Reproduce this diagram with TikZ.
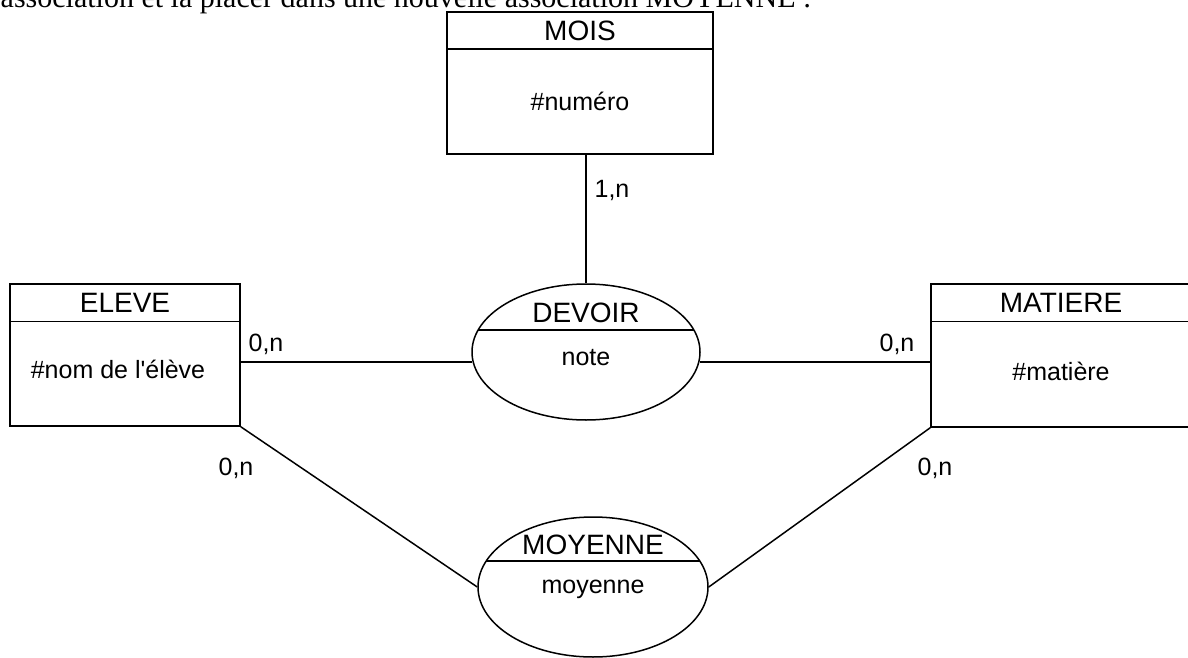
\documentclass[tikz,border=0pt]{standalone}
\usepackage{fontspec}
\setmainfont{Liberation Sans}
\newfontfamily\introfont{Liberation Serif}
\usetikzlibrary{shapes.geometric}

\begin{document}
\begin{tikzpicture}[x=1pt,y=-1pt,line width=1.5pt,
	entity/.style={draw,rectangle,inner sep=0pt},
	assoc/.style={draw,ellipse,inner sep=0pt},
	title/.style={font=\fontsize{28}{28}\selectfont,inner sep=0pt},
	attr/.style={font=\fontsize{25}{25}\selectfont,inner sep=0pt},
	card/.style={font=\fontsize{25}{25}\selectfont,inner sep=0pt}]
	\useasboundingbox (0,0) rectangle (1188,658);
	\clip (0,0) rectangle (1188,658);
	\node (Intro) at (0,8) [anchor=base west,inner sep=0pt,font=\introfont\fontsize{30}{30}\selectfont] {association et la placer dans une nouvelle association MOYENNE :};
	% entites
	\node (MOIS) at (580,83) [entity,minimum width=266pt,minimum height=142pt] {};
	\node (ELEVE) at (125,355) [entity,minimum width=230pt,minimum height=142pt] {};
	\node (MATIERE) at (1061,355.5) [entity,minimum width=260pt,minimum height=143pt] {};
	\draw ([yshift=-38pt]MOIS.north west) -- ([yshift=-38pt]MOIS.north east);
	\draw ([yshift=-38pt]ELEVE.north west) -- ([yshift=-38pt]ELEVE.north east);
	\draw ([yshift=-38pt]MATIERE.north west) -- ([yshift=-38pt]MATIERE.north east);
	\node (MOIS-t) at ([yshift=-20pt]MOIS.north) [title] {MOIS};
	\node (ELEVE-t) at ([yshift=-20pt]ELEVE.north) [title] {ELEVE};
	\node (MATIERE-t) at ([yshift=-20pt]MATIERE.north) [title] {MATIERE};
	\node (MOIS-a) at (580,101) [attr] {\#numéro};
	\node (ELEVE-a) at (118,369) [attr] {\#nom de l\textquotesingle élève};
	\node (MATIERE-a) at (1061,371) [attr] {\#matière};
	% associations
	\node (DEVOIR) at (586,352) [assoc,minimum width=228pt,minimum height=136pt] {};
	\node (MOYENNE) at (593,587) [assoc,minimum width=230pt,minimum height=140pt] {};
	\draw ([shift={(-107.9,-22)}]DEVOIR.center) -- ([shift={(107.9,-22)}]DEVOIR.center);
	\draw ([shift={(-106.8,-26)}]MOYENNE.center) -- ([shift={(106.8,-26)}]MOYENNE.center);
	\node (DEVOIR-t) at (586,313) [title] {DEVOIR};
	\node (DEVOIR-a) at (586,358) [attr] {note};
	\node (MOYENNE-t) at (593,545) [title] {MOYENNE};
	\node (MOYENNE-a) at (593,589) [attr] {moyenne};
	% liens
	\draw (DEVOIR.north |- MOIS.south) -- (DEVOIR.north);
	\draw (ELEVE.east |- DEVOIR.185) -- (DEVOIR.185);
	\draw (DEVOIR.355) -- (MATIERE.west |- DEVOIR.355);
	\draw (ELEVE.south east) -- (MOYENNE.west);
	\draw (MATIERE.south west) -- (MOYENNE.east);
	\node (c1) at (612,190) [card] {1,n};
	\node (c2) at (266,344) [card] {0,n};
	\node (c3) at (897,344) [card] {0,n};
	\node (c4) at (236,468) [card] {0,n};
	\node (c5) at (935,468) [card] {0,n};
\end{tikzpicture}
\end{document}
